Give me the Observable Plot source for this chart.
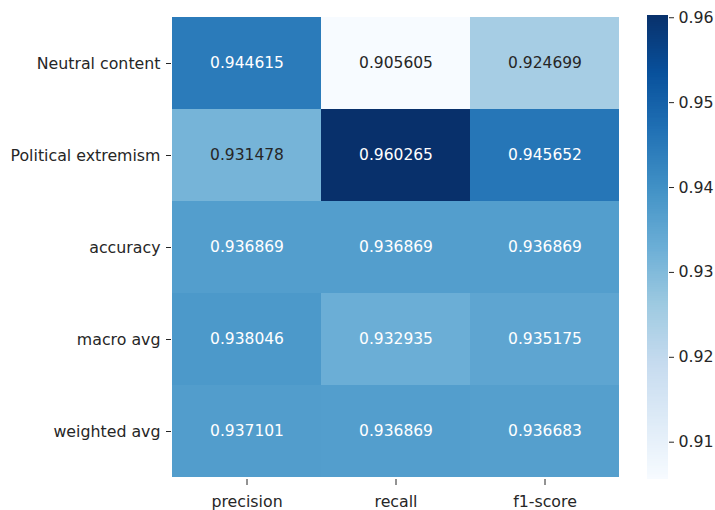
<!DOCTYPE html>
<html>
<head>
<meta charset="utf-8">
<script src="https://cdn.jsdelivr.net/npm/d3@7"></script>
<script src="https://cdn.jsdelivr.net/npm/@observablehq/plot@0.6"></script>
<style>
  html, body { margin: 0; padding: 0; background: #fff; }
  #wrap { position: relative; width: 715px; height: 510px; font-family: "DejaVu Sans", sans-serif; }
  #main { position: absolute; left: 0; top: 0; }
  #cbar { position: absolute; left: 630px; top: 0; }
</style>
</head>
<body>
<div id="wrap"><div id="main"></div><div id="cbar"></div></div>
<script>
const rows = ["Neutral content", "Political extremism", "accuracy", "macro avg", "weighted avg"];
const cols = ["precision", "recall", "f1-score"];
const precision = [0.944615, 0.931478, 0.936869, 0.938046, 0.937101];
const recall    = [0.905605, 0.960265, 0.936869, 0.932935, 0.936869];
const f1score   = [0.924699, 0.945652, 0.936869, 0.935175, 0.936683];
const colorTicks = [0.91, 0.92, 0.93, 0.94, 0.95, 0.96];
const blues9 = ["#f7fbff","#deebf7","#c6dbef","#9ecae1","#6baed6","#4292c6","#2171b5","#08519c","#08306b"];

const series = [precision, recall, f1score];
const cells = [];
rows.forEach((r, i) => cols.forEach((c, j) => cells.push({row: r, col: c, value: series[j][i]})));
const vmin = d3.min(cells, d => d.value), vmax = d3.max(cells, d => d.value);
const interp = d3.piecewise(d3.interpolateRgb, blues9);
const cscale = d3.scaleSequential(interp).domain([vmin, vmax]);
function lum(col) {
  const c = d3.rgb(col);
  const f = v => { v /= 255; return v <= 0.03928 ? v / 12.92 : Math.pow((v + 0.055) / 1.055, 2.4); };
  return 0.2126 * f(c.r) + 0.7152 * f(c.g) + 0.0722 * f(c.b);
}
cells.forEach(d => d.textColor = lum(cscale(d.value)) > 0.408 ? "#262626" : "#ffffff");

const FS = 15.8;
const colorOpts = {type: "linear", domain: [vmin, vmax], interpolate: interp};
const font = {fontFamily: "DejaVu Sans, sans-serif", fontSize: FS + "px", color: "#262626"};

const main = Plot.plot({
  width: 630, height: 510,
  marginLeft: 171, marginRight: 10, marginTop: 15, marginBottom: 31,
  style: font,
  x: {type: "band", domain: cols, padding: 0, label: null},
  y: {type: "band", domain: rows, padding: 0, label: null},
  color: colorOpts,
  marks: [
    Plot.cell(cells, {x: "col", y: "row", fill: "value", inset: 0}),
    Plot.text(cells, {x: "col", y: "row", text: d => d.value.toFixed(6), fill: "textColor", fontSize: 15.5}),
    Plot.axisX({anchor: "bottom", tickSize: 6, tickPadding: 10, label: null, fontSize: FS, stroke: "#262626", fill: "#262626"}),
    Plot.axisY({anchor: "left", tickSize: 5, tickPadding: 6, label: null, fontSize: FS, stroke: "#262626", fill: "#262626"})
  ]
});
document.getElementById("main").appendChild(main);

const steps = 256;
const strips = d3.range(steps).map(i => ({
  y1: vmin + (vmax - vmin) * i / steps,
  y2: vmin + (vmax - vmin) * (i + 1) / steps,
  v: vmin + (vmax - vmin) * (i + 0.5) / steps
}));
const cbar = Plot.plot({
  width: 85, height: 510,
  marginLeft: 17, marginRight: 47, marginTop: 15, marginBottom: 31,
  style: font,
  y: {type: "linear", domain: [vmin, vmax], label: null},
  color: colorOpts,
  marks: [
    Plot.rectY(strips, {y1: "y1", y2: "y2", fill: "v", shapeRendering: "crispEdges"}),
    Plot.axisY({anchor: "right", ticks: colorTicks, tickFormat: d => d.toFixed(2), tickSize: 5, tickPadding: 5, label: null, fontSize: FS, stroke: "#262626", fill: "#262626"})
  ]
});
document.getElementById("cbar").appendChild(cbar);
</script>
</body>
</html>
